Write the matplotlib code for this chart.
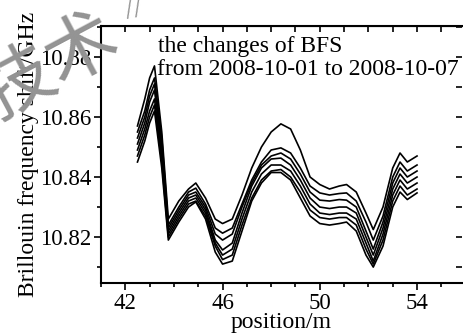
import numpy as np
import matplotlib.pyplot as plt

# positions along the fibre (m)
pos = [42.5, 42.8, 43.0, 43.2, 43.5, 43.77, 44.2, 44.6, 44.9, 45.3, 45.7,
       46.0, 46.4, 46.8, 47.2, 47.6, 48.0, 48.4, 48.8, 49.2, 49.6, 50.0,
       50.4, 50.8, 51.1, 51.5, 51.9, 52.2, 52.6, 53.0, 53.3, 53.6, 54.0]

# Brillouin frequency shift (GHz), one list per day
bfs_1001 = [10.857, 10.866, 10.873, 10.877, 10.855, 10.826, 10.832, 10.836, 10.838, 10.833, 10.826,
            10.8245, 10.826, 10.834, 10.843, 10.850, 10.855, 10.8577, 10.856, 10.849, 10.840, 10.8375,
            10.836, 10.837, 10.8375, 10.835, 10.828, 10.8225, 10.830, 10.843, 10.848, 10.845, 10.847]
bfs_1002 = [10.855, 10.862, 10.869, 10.873, 10.853, 10.824, 10.830, 10.835, 10.8363, 10.831, 10.823,
            10.8213, 10.823, 10.831, 10.839, 10.845, 10.849, 10.8497, 10.848, 10.843, 10.837, 10.8347,
            10.834, 10.8345, 10.8347, 10.832, 10.825, 10.819, 10.827, 10.840, 10.845, 10.842, 10.844]
bfs_1003 = [10.853, 10.860, 10.867, 10.871, 10.851, 10.823, 10.829, 10.834, 10.835, 10.830, 10.821,
            10.819, 10.821, 10.830, 10.838, 10.844, 10.847, 10.848, 10.846, 10.841, 10.835, 10.8323,
            10.832, 10.8325, 10.8323, 10.830, 10.822, 10.816, 10.825, 10.838, 10.843, 10.840, 10.842]
bfs_1004 = [10.851, 10.858, 10.865, 10.869, 10.849, 10.822, 10.828, 10.833, 10.834, 10.829, 10.819,
            10.8157, 10.818, 10.828, 10.837, 10.843, 10.846, 10.8463, 10.844, 10.839, 10.833, 10.830,
            10.8295, 10.830, 10.830, 10.828, 10.820, 10.814, 10.823, 10.836, 10.841, 10.838, 10.840]
bfs_1005 = [10.849, 10.856, 10.862, 10.866, 10.847, 10.821, 10.827, 10.832, 10.833, 10.828, 10.818,
            10.814, 10.816, 10.826, 10.835, 10.841, 10.844, 10.844, 10.842, 10.837, 10.831, 10.828,
            10.8275, 10.828, 10.828, 10.826, 10.818, 10.812, 10.821, 10.834, 10.839, 10.836, 10.838]
bfs_1006 = [10.847, 10.854, 10.860, 10.864, 10.845, 10.820, 10.826, 10.831, 10.832, 10.827, 10.817,
            10.8125, 10.814, 10.824, 10.833, 10.839, 10.842, 10.8425, 10.840, 10.835, 10.829, 10.8265,
            10.826, 10.8265, 10.8265, 10.824, 10.816, 10.811, 10.819, 10.832, 10.837, 10.834, 10.836]
bfs_1007 = [10.845, 10.852, 10.858, 10.862, 10.843, 10.819, 10.825, 10.830, 10.8317, 10.826, 10.815,
            10.811, 10.812, 10.822, 10.832, 10.838, 10.8415, 10.8415, 10.839, 10.833, 10.827, 10.8245,
            10.824, 10.8245, 10.825, 10.822, 10.814, 10.810, 10.817, 10.830, 10.835, 10.8325, 10.8347]

days = [bfs_1001, bfs_1002, bfs_1003, bfs_1004, bfs_1005, bfs_1006, bfs_1007]

plt.rcParams['font.family'] = ['Liberation Serif', 'Noto Sans CJK SC']

fig = plt.figure(figsize=(4.63, 3.35), dpi=100)
ax = fig.add_axes([101/463, 1-283/335, 361/463, 257/335])

for d in days:
    ax.plot(pos, d, color='k', lw=1.2)

ax.set_xlim(41.0, 55.85)
ax.set_ylim(10.8047, 10.8903)
ax.set_xticks([42, 46, 50, 54])
ax.set_xticks(np.arange(41, 56, 1), minor=True)
ax.set_yticks([10.82, 10.84, 10.86, 10.88])
ax.set_yticks(np.arange(10.81, 10.891, 0.01), minor=True)
ax.set_yticklabels(['10.82', '10.84', '10.86', '10.88'])

ax.tick_params(which='both', direction='out', labelsize=16.5, width=1.2,
               top=False, right=False)
ax.tick_params(which='major', length=5, pad=2)
ax.tick_params(which='minor', length=3)
# inward ticks on the top and right frame
sx = ax.secondary_xaxis('top')
sx.set_xticks([42, 46, 50, 54])
sx.set_xticks(np.arange(41, 56, 1), minor=True)
sx.tick_params(which='both', direction='in', labeltop=False, width=1.2, length=4)
sy = ax.secondary_yaxis('right')
sy.set_yticks([10.82, 10.84, 10.86, 10.88])
sy.set_yticks(np.arange(10.81, 10.891, 0.01), minor=True)
sy.tick_params(which='both', direction='in', labelright=False, width=1.2, length=4)
for s in ax.spines.values():
    s.set_linewidth(1.5)
ax.spines['right'].set_visible(False)
sy.spines['right'].set_visible(False)

ax.set_xlabel('position/m', fontsize=17, labelpad=-1)
ax.set_ylabel('Brillouin frequency shift/GHz', fontsize=17, labelpad=1)

ax.text(0.158, 0.922, 'the changes of BFS', transform=ax.transAxes,
        fontsize=17, va='center', ha='left')
ax.text(0.155, 0.829, 'from 2008-10-01 to 2008-10-07', transform=ax.transAxes,
        fontsize=17, va='center', ha='left')

# grey watermark in the upper-left corner
fig.text(0.11, 0.80, '技术', fontsize=52, color='#939393', rotation=28,
         ha='center', va='center', family='Noto Sans CJK SC')
fig.text(0.29, 0.97, '//', fontsize=22, color='#939393', rotation=10,
         ha='center', va='center')

fig.savefig('out.png', dpi=100)
